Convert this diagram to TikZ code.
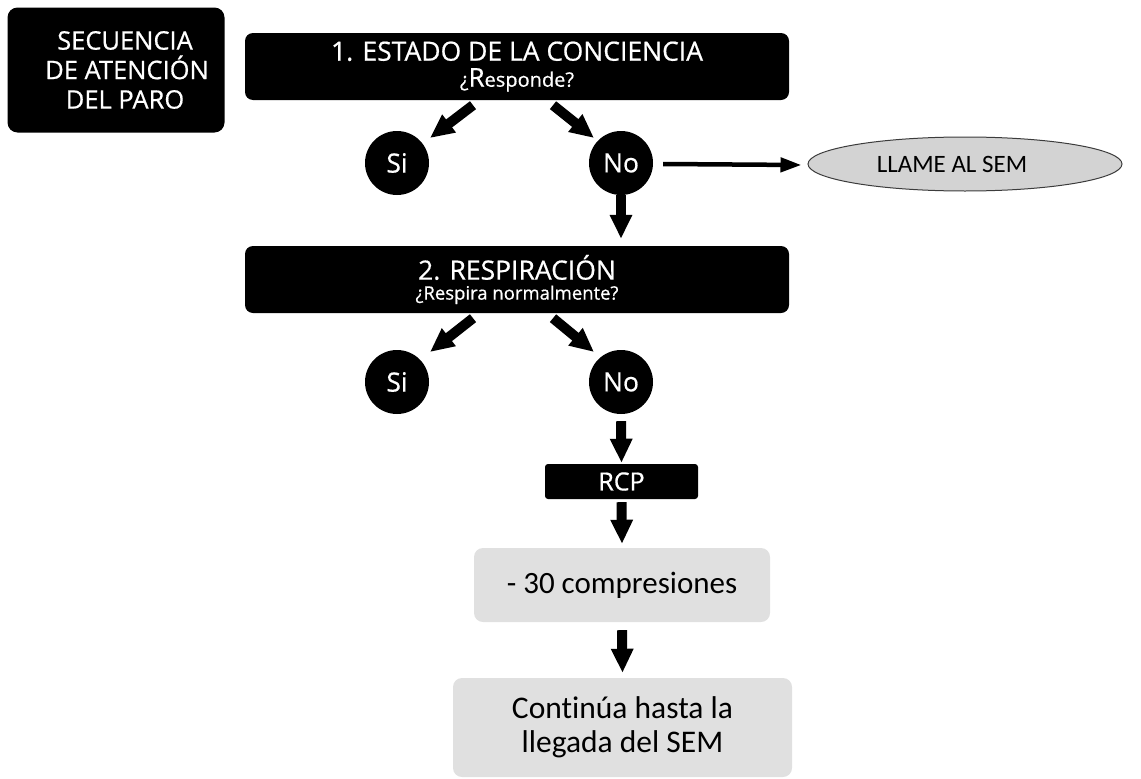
\documentclass[tikz,border=0pt]{standalone}
\usepackage{fontspec}
\setmainfont[FakeBold=0.6]{Open Sans}
\newfontfamily\calfont[Ligatures=NoCommon]{Carlito}
\usetikzlibrary{arrows.meta,shapes.geometric,calc}
\definecolor{boxgray}{RGB}{224,224,224}
\definecolor{ellgray}{RGB}{211,211,211}
\definecolor{ellline}{RGB}{60,60,60}
\begin{document}
\begin{tikzpicture}[x=1pt,y=-1pt,
  blackbox/.style={fill=black,text=white,rounded corners=8pt,inner sep=0pt,align=center},
  circ/.style={circle,fill=black,text=white,minimum size=64pt,inner sep=0pt,font=\fontsize{26.5}{30}\selectfont},
  graybox/.style={fill=boxgray,rounded corners=9pt,inner sep=0pt,align=center,font=\calfont\fontsize{31}{35}\selectfont},
  fat/.style={line width=10pt,-{Triangle[width=21pt,length=24pt]}},
  thin/.style={line width=4.5pt,-{Triangle[width=14pt,length=21pt]}}
]
\useasboundingbox (0,0) rectangle (1141,779);

\node[blackbox,minimum width=217pt,minimum height=125pt,rounded corners=10pt,font=\fontsize{25.5}{29.5}\selectfont] (title) at (116,70)
  {\hspace*{18pt}SECUENCIA\\\hspace*{22pt}DE ATENCIÓN\\\hspace*{18pt}DEL PARO};

\node[blackbox,minimum width=544pt,minimum height=67pt,font=\fontsize{26.5}{26}\selectfont] (b1) at (517,66.5)
  {1. ESTADO DE LA CONCIENCIA\\{\fontsize{20}{26}\selectfont ¿{\fontsize{26}{26}\selectfont R}esponde?}};
\node[blackbox,minimum width=544pt,minimum height=67pt,font=\fontsize{26.5}{20}\selectfont] (b2) at (517,279.5)
  {2. RESPIRACIÓN\\{\fontsize{18.5}{20}\selectfont ¿Respira normalmente?}};

\node[circ] (si1) at (397,163) {Si};
\node[circ] (no1) at (621,163) {No};
\node[circ] (si2) at (397,382) {Si};
\node[circ] (no2) at (621,382) {No};

\node[ellipse,draw=ellline,line width=1pt,fill=ellgray,minimum width=314pt,minimum height=54pt,inner sep=0pt,font=\calfont\fontsize{25}{30}\selectfont] (sem) at (965,164) {\hspace*{-26pt}LLAME AL SEM};

\node[blackbox,rounded corners=3pt,minimum width=153pt,minimum height=35pt,font=\fontsize{25}{30}\selectfont] (rcp) at (621.5,481.5) {RCP};
\node[graybox,minimum width=296pt,minimum height=74pt] (g1) at (622,585) {- 30 compresiones};
\node[graybox,minimum width=339pt,minimum height=99pt,font=\calfont\fontsize{31.5}{34}\selectfont] (g2) at (622.5,727.5) {Continúa hasta la\\llegada del SEM};

\coordinate (b2top) at (b2.north -| no1.south);

\draw[fat] ($(b1.south)+(-44,5)$) -- ($(si1.center)+(33,-25)$);
\draw[fat] ($(b1.south)+(36,5)$) -- ($(no1.center)+(-27,-25)$);
\draw[thin] ($(no1.east)+(10,1)$) -- ($(sem.west)+(-6,1)$);
\draw[fat] (no1.south) -- ($(b2top)+(0,-7)$);
\draw[fat] ($(b2.south)+(-44,5)$) -- ($(si2.center)+(33,-30)$);
\draw[fat] ($(b2.south)+(36,5)$) -- ($(no2.center)+(-27,-30)$);
\draw[fat] ($(no2.south)+(0,7)$) -- ($(rcp.north)+(0,-1)$);
\draw[fat] ($(rcp.south)+(0,3)$) -- ($(g1.north)+(0,-4)$);
\draw[fat] ($(g1.south)+(0,8)$) -- ($(g2.north)+(0,-5)$);
\end{tikzpicture}
\end{document}
